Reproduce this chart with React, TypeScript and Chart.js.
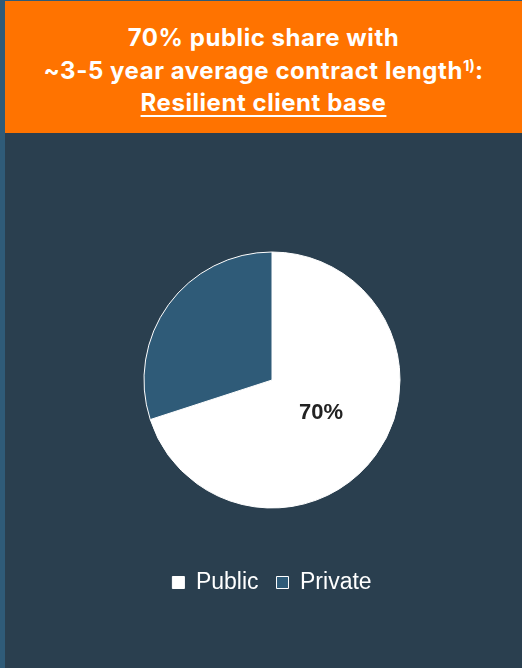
import React, { useEffect, useRef } from "react";
import { Chart, registerables } from "chart.js";

Chart.register(...registerables);

const categories = ["Public", "Private"];
const shares = [70, 30];
const sliceColors = ["#ffffff", "#2f5b78"];
const centerLabel = "70%";

const BG = "#2a3f4f";
const ORANGE = "#ff7300";

export default function App() {
  const ref = useRef<HTMLCanvasElement | null>(null);

  useEffect(() => {
    if (!ref.current) return;
    const labelPlugin = {
      id: "sliceLabel",
      afterDatasetsDraw(chart: any) {
        const meta = chart.getDatasetMeta(0);
        const arc = meta.data[0];
        if (!arc) return;
        const { x, y, startAngle, endAngle, outerRadius } = arc.getProps(
          ["x", "y", "startAngle", "endAngle", "outerRadius"],
          true
        );
        const mid = (startAngle + endAngle) / 2 - 0.04;
        const r = outerRadius * 0.46;
        const ctx = chart.ctx;
        ctx.save();
        ctx.font = "bold 22px Arial, 'Liberation Sans', sans-serif";
        ctx.fillStyle = "#222222";
        ctx.textAlign = "center";
        ctx.textBaseline = "middle";
        ctx.fillText(centerLabel, x + Math.cos(mid) * r, y + Math.sin(mid) * r);
        ctx.restore();
      },
    };
    const chart = new Chart(ref.current, {
      type: "pie",
      data: {
        labels: categories,
        datasets: [
          {
            data: shares,
            backgroundColor: sliceColors,
            borderColor: "#ffffff",
            borderWidth: 1,
            radius: 128,
            hoverOffset: 0,
          },
        ],
      },
      options: {
        responsive: false,
        animation: false,
        layout: { padding: { left: 17, right: 0, top: 74, bottom: 64 } },
        plugins: {
          tooltip: { enabled: false },
          legend: {
            position: "bottom",
            labels: {
              color: "#ffffff",
              boxWidth: 12,
              boxHeight: 12,
              padding: 18,
              font: { size: 23, family: "Arial, 'Liberation Sans', sans-serif" },
            },
          },
        },
      },
      plugins: [labelPlugin],
    });
    return () => chart.destroy();
  }, []);

  return (
    <div
      style={{
        position: "fixed",
        left: 0,
        top: 0,
        width: 522,
        height: 668,
        background: BG,
        overflow: "hidden",
      }}
    >
      <div style={{ position: "absolute", left: 0, top: 0, width: 5, height: 668, background: "#2f5b78" }} />
      <div style={{ position: "absolute", left: 0, top: 0, width: 522, height: 1, background: "#2f5b78" }} />
      <div
        style={{
          position: "absolute",
          left: 5,
          top: 1,
          width: 517,
          height: 132,
          background: ORANGE,
          color: "#ffffff",
          fontFamily: "Inter, 'Open Sans', sans-serif",
          fontWeight: 700,
          fontSize: 24,
          letterSpacing: "0.55px",
          lineHeight: "32.5px",
          textAlign: "center",
          paddingTop: 21,
          boxSizing: "border-box",
        }}
      >
        <div>70% public share with</div>
        <div>
          ~3-5 year average contract length
          <sup style={{ fontSize: 15, lineHeight: 0, verticalAlign: "8px", letterSpacing: 0 }}>1)</sup>:
        </div>
        <div>
          <span style={{ textDecoration: "underline", textUnderlineOffset: 4, textDecorationThickness: 2 }}>
            Resilient client base
          </span>
        </div>
      </div>
      <canvas
        ref={ref}
        width={517}
        height={535}
        style={{ position: "absolute", left: 5, top: 133, width: 517, height: 535 }}
      />
    </div>
  );
}
